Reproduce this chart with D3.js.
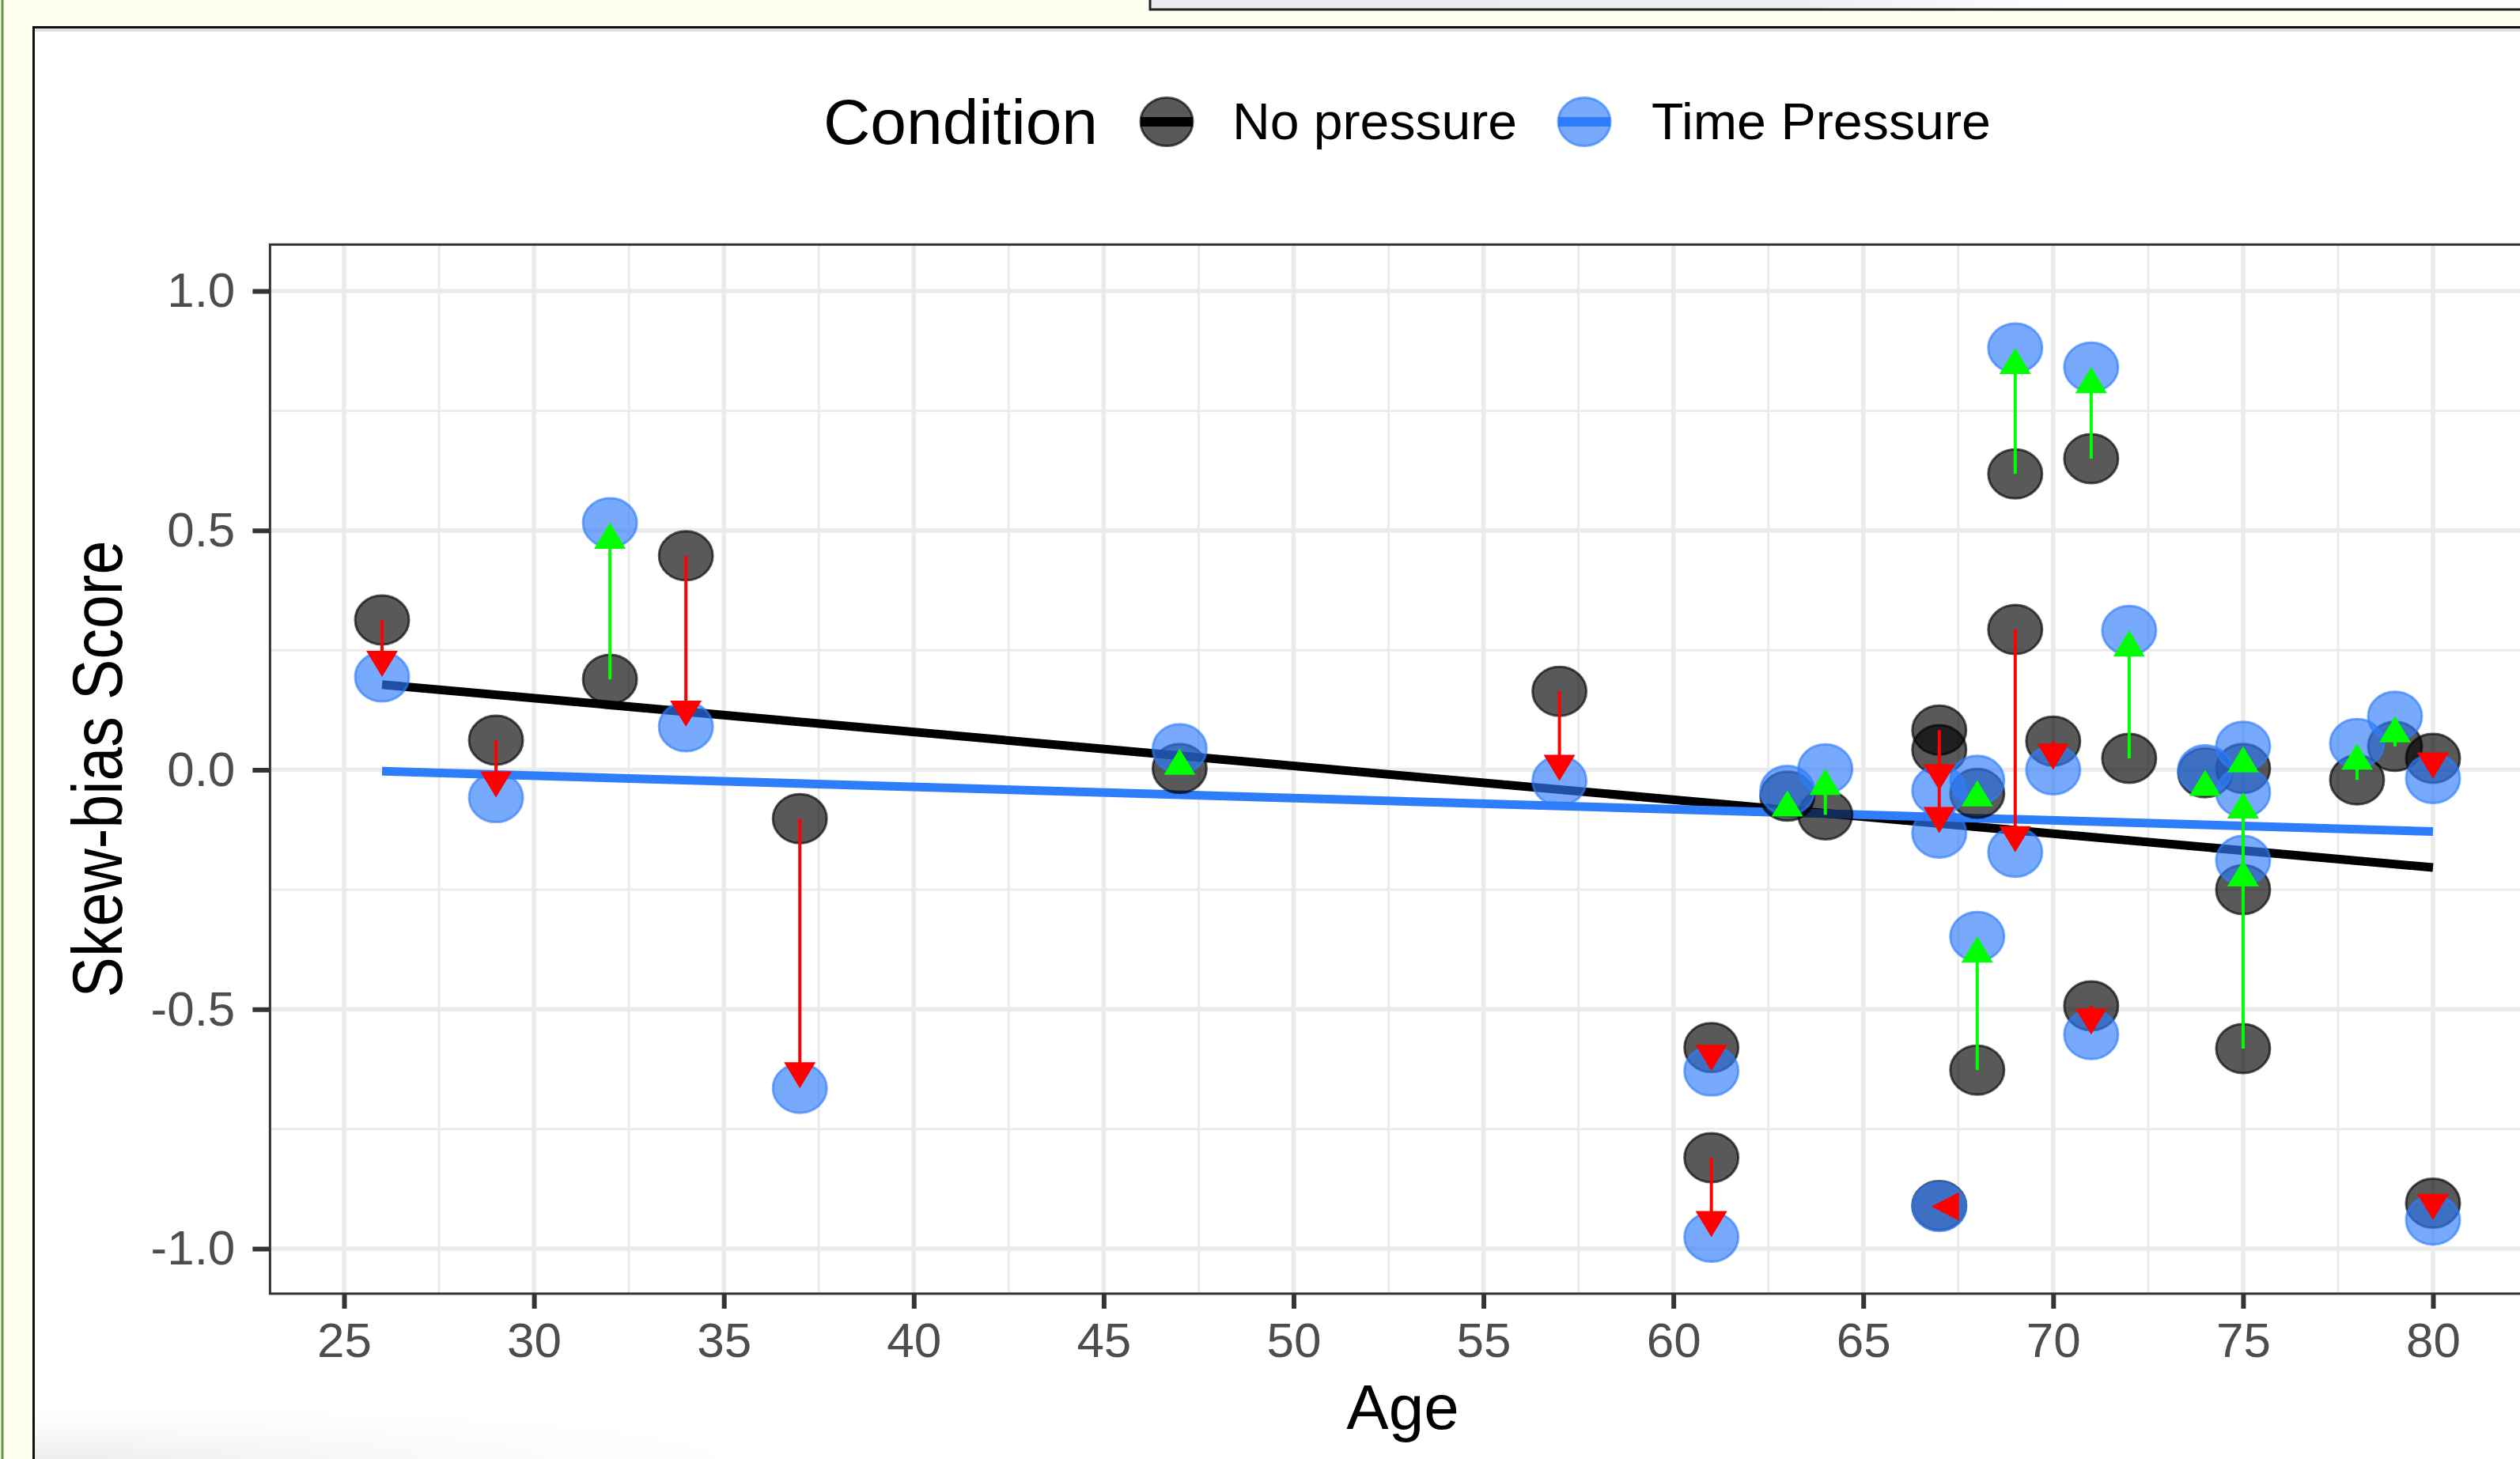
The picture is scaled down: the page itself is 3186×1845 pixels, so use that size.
<!DOCTYPE html>
<html>
<head>
<meta charset="utf-8">
<script src="https://cdn.jsdelivr.net/npm/d3@7"></script>
<style>
  body { margin: 0; background: #ffffff; }
  svg { display: block; font-family: "Liberation Sans", Arial, Helvetica, sans-serif; }
</style>
</head>
<body>
<svg id="chart" width="3186" height="1845"></svg>
<script>
// one entry per participant: age, skew-bias score without and with time pressure
var ages = [26, 29, 32, 34, 37, 47, 57, 61, 61, 63, 64, 67, 67, 67, 68, 68, 69, 69, 70, 71, 71, 72, 74, 75, 75, 75, 78, 79, 80, 80];
var noPressure = [0.313, 0.062, 0.189, 0.447, -0.102, 0.003, 0.164, -0.58, -0.81, -0.055, -0.094, 0.083, 0.042, -0.91, -0.049, -0.627,
  0.618, 0.293, 0.06, 0.65, -0.493, 0.024, -0.006, -0.582, -0.25, 0.003, -0.021, 0.049, 0.024, -0.905];
var timePressure = [0.194, -0.058, 0.516, 0.09, -0.665, 0.044, -0.023, -0.629, -0.976, -0.043, 0.002, -0.132, -0.043, -0.912, -0.022, -0.348,
  0.881, -0.172, 0.0, 0.841, -0.553, 0.291, 0.0, -0.189, -0.047, 0.049, 0.055, 0.112, -0.018, -0.94];

// linear fits (ends at age 26 and 80)
var fitAges = [26, 80];
var fitNoPressure = [0.178, -0.204];
var fitTimePressure = [-0.003, -0.129];

var xTicks = [25, 30, 35, 40, 45, 50, 55, 60, 65, 70, 75, 80];
var xMinor = [27.5, 32.5, 37.5, 42.5, 47.5, 52.5, 57.5, 62.5, 67.5, 72.5, 77.5, 82.5];
var yTicks = [-1, -0.5, 0, 0.5, 1];
var yMinor = [-0.75, -0.25, 0.25, 0.75];
var xLimits = [23.05, 82.7];
var yLimits = [-1.094, 1.097];

var conditions = ["No pressure", "Time Pressure"];
var condColors = ["#000000", "#2e7dfa"];

var svg = d3.select("#chart");
var W = 3186, H = 1845;

var x = d3.scaleLinear().domain([25, 80]).range([435, 3076]);
var y = d3.scaleLinear().domain([-1, 1]).range([1579, 368]);

// window frame around the plot
var defs = svg.append("defs");
var topGrad = defs.append("linearGradient").attr("id", "topbox");
topGrad.append("stop").attr("offset", "0%").attr("stop-color", "#ebebeb");
topGrad.append("stop").attr("offset", "45%").attr("stop-color", "#eeeeee");
topGrad.append("stop").attr("offset", "65%").attr("stop-color", "#ffffff");
var shade = defs.append("radialGradient").attr("id", "shade")
  .attr("cx", "0%").attr("cy", "100%").attr("r", "100%");
shade.append("stop").attr("offset", "0%").attr("stop-color", "#ececec");
shade.append("stop").attr("offset", "100%").attr("stop-color", "#ffffff").attr("stop-opacity", 0);

svg.append("rect").attr("width", W).attr("height", H).attr("fill", "#ffffff");
svg.append("rect").attr("width", W).attr("height", 34).attr("fill", "#fffff0");
svg.append("rect").attr("width", 42).attr("height", H).attr("fill", "#fffff0");
svg.append("line").attr("x1", 3).attr("x2", 3).attr("y1", 0).attr("y2", H)
  .attr("stroke", "#5e9a4a").attr("stroke-width", 3);
svg.append("rect").attr("x", 1454).attr("y", -6).attr("width", 1800).attr("height", 18)
  .attr("fill", "url(#topbox)").attr("stroke", "#222").attr("stroke-width", 3);
svg.append("rect").attr("x", 44).attr("y", 36).attr("width", W).attr("height", 4).attr("fill", "#dde2e8");
svg.append("rect").attr("x", 44).attr("y", 1765).attr("width", 1100).attr("height", 80).attr("fill", "url(#shade)");
svg.append("path").attr("d", "M42.5," + H + "V34.5H" + W)
  .attr("fill", "none").attr("stroke", "#111").attr("stroke-width", 3);

// panel
var px0 = x(xLimits[0]), px1 = x(xLimits[1]);
var py0 = y(yLimits[1]), py1 = y(yLimits[0]);
var plot = svg.append("g");

plot.append("g").selectAll("line").data(yMinor).enter().append("line")
  .attr("x1", px0).attr("x2", px1).attr("y1", d => y(d)).attr("y2", d => y(d))
  .attr("stroke", "#ebebeb").attr("stroke-width", 3);
plot.append("g").selectAll("line").data(xMinor).enter().append("line")
  .attr("x1", d => x(d)).attr("x2", d => x(d)).attr("y1", py0).attr("y2", py1)
  .attr("stroke", "#ebebeb").attr("stroke-width", 3);
plot.append("g").selectAll("line").data(yTicks).enter().append("line")
  .attr("x1", px0).attr("x2", px1).attr("y1", d => y(d)).attr("y2", d => y(d))
  .attr("stroke", "#ebebeb").attr("stroke-width", 5.5);
plot.append("g").selectAll("line").data(xTicks).enter().append("line")
  .attr("x1", d => x(d)).attr("x2", d => x(d)).attr("y1", py0).attr("y2", py1)
  .attr("stroke", "#ebebeb").attr("stroke-width", 5.5);

// fitted lines
var fits = [fitNoPressure, fitTimePressure];
var lineGen = d3.line().x(d => x(d[0])).y(d => y(d[1]));
fits.forEach(function (f, k) {
  plot.append("path")
    .datum(fitAges.map((a, i) => [a, f[i]]))
    .attr("d", lineGen)
    .attr("fill", "none")
    .attr("stroke", condColors[k])
    .attr("stroke-width", 11);
});

// points: no pressure first, time pressure over it
[noPressure, timePressure].forEach(function (vals, k) {
  plot.append("g").selectAll("ellipse").data(vals).enter().append("ellipse")
    .attr("cx", (d, i) => x(ages[i]))
    .attr("cy", d => y(d))
    .attr("rx", 34).attr("ry", 31)
    .attr("fill", condColors[k]).attr("fill-opacity", 0.65)
    .attr("stroke", condColors[k]).attr("stroke-opacity", 0.65)
    .attr("stroke-width", 3);
});

// arrows from no pressure to time pressure
var arrows = plot.append("g");
ages.forEach(function (a, i) {
  var col = timePressure[i] > noPressure[i] ? "#00ff00" : "#ff0000";
  var cx = x(a), y0 = y(noPressure[i]), y1 = y(timePressure[i]);
  if (Math.abs(y1 - y0) < 3) {
    // zero-length change: head points sideways
    arrows.append("path")
      .attr("d", "M" + (cx - 10) + "," + y1 + "L" + (cx + 25) + "," + (y1 - 18) + "L" + (cx + 25) + "," + (y1 + 18) + "Z")
      .attr("fill", col);
    return;
  }
  var dir = y1 < y0 ? -1 : 1;
  arrows.append("line")
    .attr("x1", cx).attr("x2", cx).attr("y1", y0).attr("y2", y1 - dir * 10)
    .attr("stroke", col).attr("stroke-width", 4);
  arrows.append("path")
    .attr("d", "M" + cx + "," + y1 + "L" + (cx - 20) + "," + (y1 - dir * 33) + "L" + (cx + 20) + "," + (y1 - dir * 33) + "Z")
    .attr("fill", col);
});

// panel border
plot.append("rect")
  .attr("x", px0).attr("y", py0).attr("width", px1 - px0).attr("height", py1 - py0)
  .attr("fill", "none").attr("stroke", "#333333").attr("stroke-width", 3);

// axes
var yAxis = svg.append("g")
  .attr("transform", "translate(" + px0 + ",0)")
  .call(d3.axisLeft(y).tickValues(yTicks).tickFormat(d => d.toFixed(1)).tickSize(22).tickPadding(22));
var xAxis = svg.append("g")
  .attr("transform", "translate(0," + py1 + ")")
  .call(d3.axisBottom(x).tickValues(xTicks).tickSize(19).tickPadding(17));
[xAxis, yAxis].forEach(function (g) {
  g.select(".domain").remove();
  g.selectAll(".tick line").attr("stroke", "#333333").attr("stroke-width", 6);
  g.selectAll(".tick text").attr("fill", "#4d4d4d").attr("font-size", 62)
    .attr("font-family", "Liberation Sans, Arial, sans-serif");
});

svg.append("text")
  .attr("x", (px0 + px1) / 2).attr("y", 1807)
  .attr("text-anchor", "middle").attr("font-size", 80).attr("fill", "#000")
  .text("Age");
svg.append("text")
  .attr("transform", "translate(154," + ((py0 + py1) / 2) + ") rotate(-90) scale(1,1.15)")
  .attr("text-anchor", "middle").attr("font-size", 77).attr("fill", "#000")
  .text("Skew-bias Score");

// legend
var legend = svg.append("g");
legend.append("text").attr("x", 1041).attr("y", 182)
  .attr("font-size", 80).attr("fill", "#000")
  .attr("textLength", 347).attr("lengthAdjust", "spacingAndGlyphs")
  .text("Condition");
var keyX = [1475, 2003];
var labelX = [1558, 2088];
var labelW = [360, 429];
conditions.forEach(function (c, k) {
  legend.append("ellipse")
    .attr("cx", keyX[k]).attr("cy", 154).attr("rx", 33).attr("ry", 30.5)
    .attr("fill", condColors[k]).attr("fill-opacity", 0.65)
    .attr("stroke", condColors[k]).attr("stroke-opacity", 0.65).attr("stroke-width", 3);
  legend.append("rect")
    .attr("x", keyX[k] - 33).attr("y", 148).attr("width", 66).attr("height", 12)
    .attr("fill", condColors[k]);
  legend.append("text").attr("x", labelX[k]).attr("y", 176)
    .attr("font-size", 64).attr("fill", "#000")
    .attr("textLength", labelW[k]).attr("lengthAdjust", "spacingAndGlyphs")
    .text(c);
});
</script>
</body>
</html>
